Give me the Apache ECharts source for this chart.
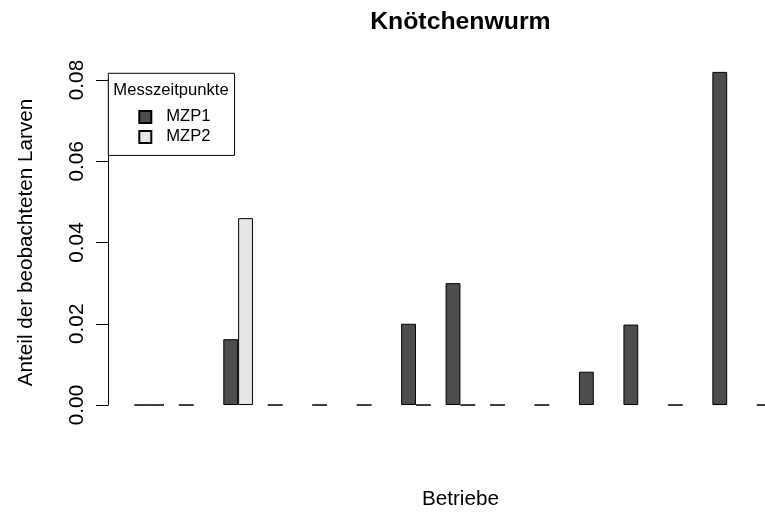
<!DOCTYPE html>
<html>
<head>
<meta charset="utf-8">
<script src="https://cdn.jsdelivr.net/npm/echarts@6/dist/echarts.min.js"></script>
<style>html,body{margin:0;padding:0;background:#fff;overflow:hidden;width:765px;height:512px}#c{width:850px;height:512px}</style>
</head>
<body>
<div id="c"></div>
<script>
var categories = ['1','2','3','4','5','6','7','8','9','10','11','12','13','14','15'];
var mzp1 = [0, 0, 0.0162, 0, 0, 0, 0.02, 0.03, 0, 0, 0.0082, 0.0198, 0, 0.082, 0];
var mzp2 = [0, null, 0.046, null, null, null, 0, 0, null, null, null, null, null, null, null];
var yTicks = [0, 0.02, 0.04, 0.06, 0.08];
var seriesNames = ['MZP1', 'MZP2'];
var legendTitle = 'Messzeitpunkte';
var chartTitle = 'Knötchenwurm';
var xName = 'Betriebe';
var yName = 'Anteil der beobachteten Larven';

var FONT = 'Liberation Sans, Arial, Helvetica, sans-serif';
var chart = echarts.init(document.getElementById('c'), null, {renderer: 'canvas'});
var yMaxData = Math.max.apply(null, mzp1.concat(mzp2.filter(function(v){return v!=null;})));
var ext = yMaxData * 0.04;

chart.setOption({
  animation: false,
  backgroundColor: '#fff',
  textStyle: {fontFamily: FONT},
  title: [
    {text: chartTitle, left: 460.4, textAlign: 'center', top: 10, padding: 0,
     textStyle: {fontSize: 24.8, fontWeight: 'bold', color: '#000', fontFamily: FONT}},
    {text: legendTitle, left: 171, textAlign: 'center', top: 81.7, padding: 0, z: 10,
     textStyle: {fontSize: 16.6, fontWeight: 'normal', color: '#000', fontFamily: FONT}}
  ],
  legend: {
    orient: 'vertical', left: 108.3, top: 73.3,
    itemWidth: 12, itemHeight: 12, itemGap: 3,
    padding: [35.1, 24, 10, 30],
    borderColor: '#000', borderWidth: 1, backgroundColor: '#fff',
    icon: 'rect',
    textStyle: {fontSize: 16.6, color: '#000', fontFamily: FONT, padding: [0, 0, 0, 10]},
    data: seriesNames
  },
  grid: [
    {left: 126.97, width: 666.9, top: 58.55, height: 359.8, containLabel: false, outerBoundsMode: 'none'},
    {left: 126.97, width: 666.9, top: 80, height: 325, containLabel: false, outerBoundsMode: 'none'}
  ],
  xAxis: [
    {type: 'category', gridIndex: 0, data: categories,
     axisLine: {show: false, onZero: false}, axisTick: {show: false}, axisLabel: {show: false},
     splitLine: {show: false},
     name: xName, nameLocation: 'middle', nameGap: 70,
     nameTextStyle: {fontSize: 20.7, color: '#000', fontFamily: FONT}},
    {type: 'category', gridIndex: 1, data: categories, show: false}
  ],
  yAxis: [
    {type: 'value', gridIndex: 0, min: -ext, max: yMaxData + ext, show: false, splitLine: {show: false}},
    {type: 'value', gridIndex: 1, min: yTicks[0], max: yTicks[yTicks.length - 1], interval: 0.02,
     offset: 18.67,
     axisLine: {show: true, lineStyle: {color: '#000', width: 1}},
     axisTick: {show: true, length: 12.4, lineStyle: {color: '#000', width: 1}},
     splitLine: {show: false},
     axisLabel: {rotate: 90, margin: 21, fontSize: 20.7, color: '#000', fontFamily: FONT,
                 formatter: function(v){ return v.toFixed(2); }},
     name: yName, nameLocation: 'middle', nameRotate: 90, nameGap: 72,
     nameTextStyle: {fontSize: 20.7, color: '#000', fontFamily: FONT}}
  ],
  series: [
    {name: seriesNames[0], type: 'bar', xAxisIndex: 0, yAxisIndex: 0, data: mzp1,
     barGap: '0%', barCategoryGap: '33.333%',
     itemStyle: {color: '#4D4D4D', borderColor: '#000', borderWidth: 1}},
    {name: seriesNames[1], type: 'bar', xAxisIndex: 0, yAxisIndex: 0, data: mzp2,
     barGap: '0%', barCategoryGap: '33.333%',
     itemStyle: {color: '#E6E6E6', borderColor: '#000', borderWidth: 1}}
  ]
});
</script>
</body>
</html>
